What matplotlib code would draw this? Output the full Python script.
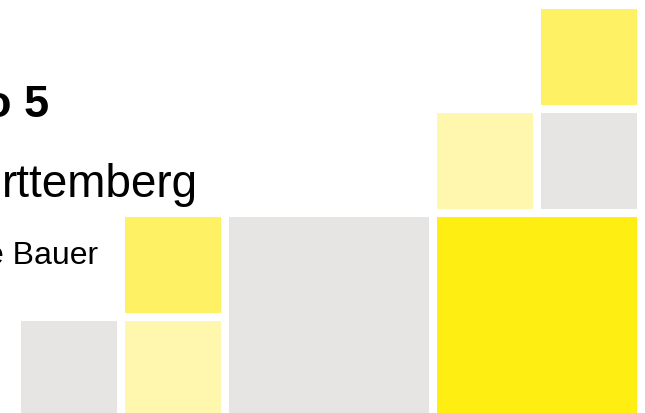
import matplotlib
matplotlib.use("Agg")
import matplotlib.pyplot as plt

# grid tiles: column, row, span (in cells), colour
tile_col = [0, 1, 1, 2, 4, 4, 5, 5]
tile_row = [3, 3, 2, 2, 2, 1, 1, 0]
tile_span = [1, 1, 1, 2, 2, 1, 1, 1]
tile_color = ["#E6E5E4", "#FFF7AE", "#FFF164", "#E6E5E4",
              "#FFEE12", "#FFF7AE", "#E6E5E4", "#FFF164"]

# text lines (cut at the left edge in the reference)
texts = ["o 5", "rttemberg", "e Bauer"]

W, H = 645, 413
x0, y0 = 21, 9        # top-left of the grid
pitch, gap = 104, 8   # cell pitch and gap between tiles

plt.rcParams["font.family"] = ["Liberation Sans", "DejaVu Sans"]
fig = plt.figure(figsize=(W / 100, H / 100), dpi=100)
ax = fig.add_axes([0, 0, 1, 1])
ax.set_xlim(0, W)
ax.set_ylim(H, 0)
ax.axis("off")

lefts = [x0 + pitch * c for c in tile_col]
tops = [y0 + pitch * r for r in tile_row]
sizes = [pitch * s - gap for s in tile_span]
ax.bar(lefts, sizes, width=sizes, bottom=tops, align="edge",
       color=tile_color, linewidth=0)

# title lines
ax.text(49, 117, texts[0], ha="right", va="baseline", fontsize=32.5,
        fontweight="bold", color="black")
ax.text(198, 197, texts[1], ha="right", va="baseline", fontsize=33,
        color="black")
ax.text(98, 264, texts[2], ha="right", va="baseline", fontsize=23,
        color="black")

fig.savefig("out.png", dpi=100)
